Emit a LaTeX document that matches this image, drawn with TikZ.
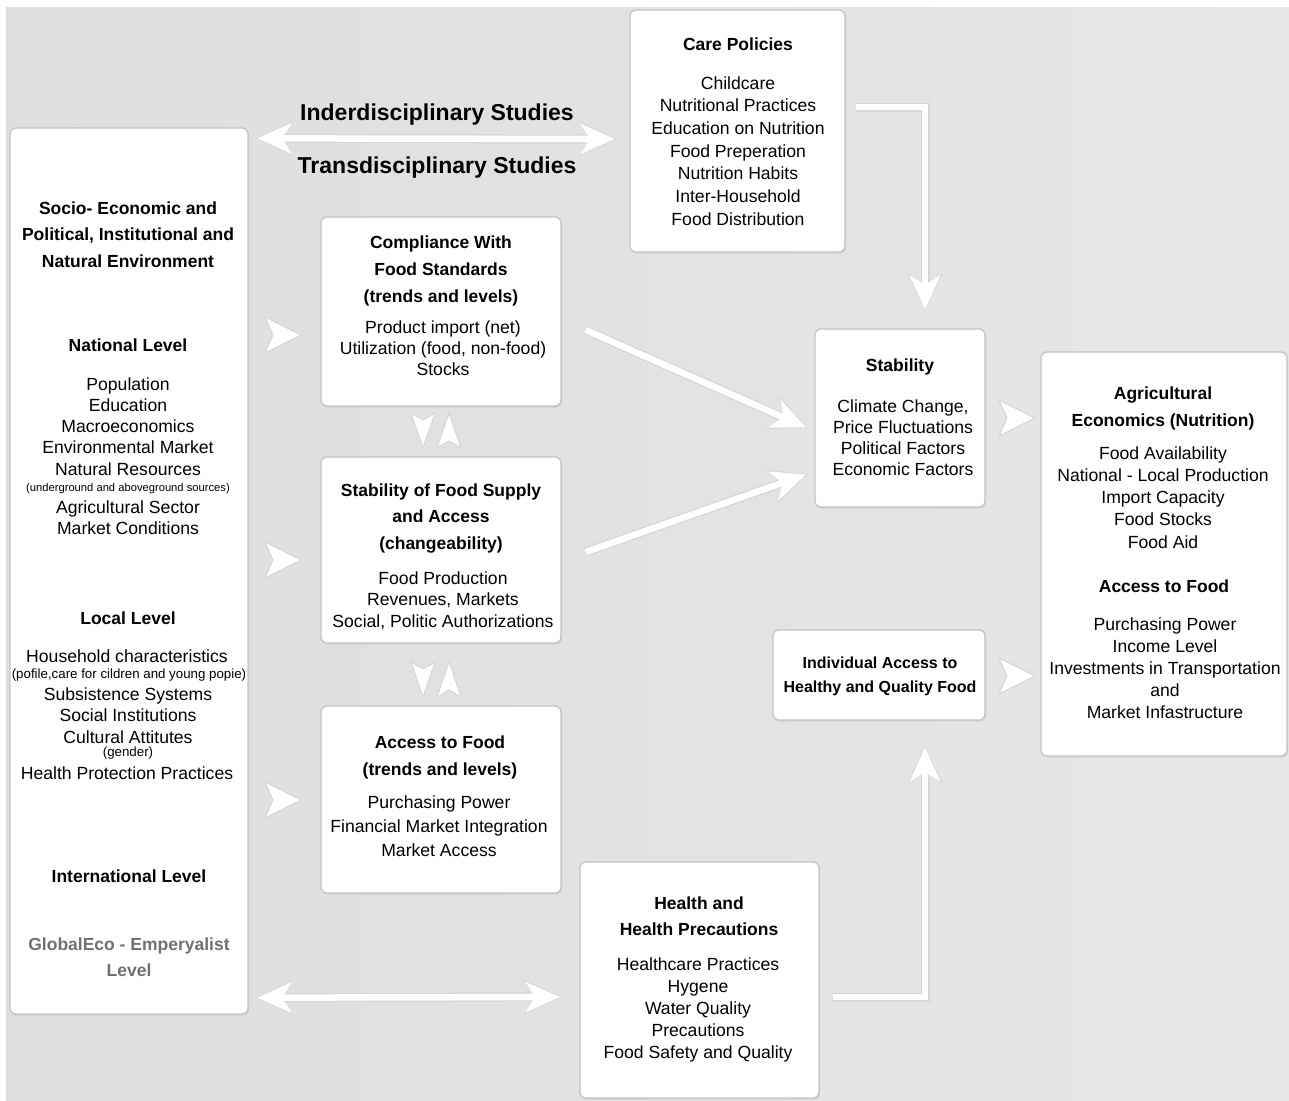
\documentclass[tikz,border=0pt]{standalone}
\usepackage{fontspec}
\setmainfont{Liberation Sans}
\usetikzlibrary{arrows.meta,shadows}
\definecolor{bgA}{HTML}{DDDEDF}
\definecolor{bgB}{HTML}{E6E7E8}
\definecolor{edge}{HTML}{C4C4C4}
\definecolor{graytxt}{HTML}{707070}
\tikzset{
  box/.style={draw=edge, line width=1.3pt, fill=white, rounded corners=6pt, inner sep=0pt,
    drop shadow={opacity=0.18, shadow xshift=1pt, shadow yshift=-1.5pt}},
  hb/.style={font=\fontsize{17.5}{21}\selectfont\bfseries, inner sep=0pt},
  hbs/.style={font=\fontsize{16}{20}\selectfont\bfseries, inner sep=0pt},
  bd/.style={font=\fontsize{17.6}{21}\selectfont, inner sep=0pt},
  smA/.style={font=\fontsize{11.2}{13}\selectfont, inner sep=0pt},
  smB/.style={font=\fontsize{13.3}{15}\selectfont, inner sep=0pt},
  ttl/.style={font=\fontsize{23}{27}\selectfont\bfseries, inner sep=0pt},
  arrshadow/.style={draw=black!16, line width=9pt, -{Stealth[length=37pt, width=34pt, inset=10pt]}},
  arrmain/.style={draw=white, line width=6.5pt, -{Stealth[length=34pt, width=30pt, inset=9pt]}, shorten >=1.5pt},
  darrshadow/.style={draw=black!16, line width=9pt, {Stealth[length=37pt, width=34pt, inset=10pt]}-{Stealth[length=37pt, width=34pt, inset=10pt]}},
  darrmain/.style={draw=white, line width=6.5pt, {Stealth[length=34pt, width=30pt, inset=9pt]}-{Stealth[length=34pt, width=30pt, inset=9pt]}, shorten >=1.5pt, shorten <=1.5pt},
  chevstyle/.style={fill=white, draw=black!16, line width=1pt, line join=round},
  chevH/.pic={\path[chevstyle] (0,0) -- (-36,-18) -- (-28,0) -- (-36,18) -- cycle;},
  chevV/.pic={\path[chevstyle] (0,0) -- (-35,-12) -- (-28,0) -- (-35,12) -- cycle;},
}
\newcommand\txtlines[6]{%
  \foreach \t [count=\i] in {#6} {\node[#5, anchor=base] (#1-\i) at (#2, {#3+(\i-1)*#4}) {\t};}}
\begin{document}
\begin{tikzpicture}[x=1pt,y=-1pt]
\useasboundingbox (0,0) rectangle (1289,1100);
\fill[white] (0,0) rectangle (1289,1100);
\shade[left color=bgA, right color=bgB] (6,7) rectangle (1289,1100);

% boxes
\node[box, minimum width=238pt, minimum height=886pt] (L) at (129,571) {};
\node[box, minimum width=215pt, minimum height=242pt] (CP) at (737.5,131) {};
\node[box, minimum width=240pt, minimum height=189pt] (CS) at (441,311.5) {};
\node[box, minimum width=240pt, minimum height=186pt] (SF) at (441,550) {};
\node[box, minimum width=240pt, minimum height=187pt] (AF) at (441,799.5) {};
\node[box, minimum width=170pt, minimum height=178pt] (ST) at (900,418) {};
\node[box, minimum width=246pt, minimum height=404pt] (AG) at (1164,554) {};
\node[box, minimum width=212pt, minimum height=90pt] (IA) at (879,675) {};
\node[box, minimum width=239pt, minimum height=236pt] (HE) at (699.5,980) {};

% titles
\node[ttl, anchor=base] (T1) at (437,120) {Inderdisciplinary Studies};
\node[ttl, anchor=base] (T2) at (437,173) {Transdisciplinary Studies};

% left box text
\txtlines{Lh}{128}{214}{26.5}{hb}{Socio- Economic and, {Political, Institutional and}, Natural Environment}
\node[hb, anchor=base] (Ln) at (128,351) {National Level};
\txtlines{Lp}{128}{390}{21.25}{bd}{Population, Education, Macroeconomics, Environmental Market, Natural Resources}
\node[smA, anchor=base] (Ls) at (128,491) {(underground and aboveground sources)};
\txtlines{Lq}{128}{513}{21}{bd}{Agricultural Sector, Market Conditions}
\node[hb, anchor=base] (Ll) at (128,624) {Local Level};
\node[bd, anchor=base] (Lhh) at (127,662) {Household characteristics};
\node[smB, anchor=base] (Ls2) at (129,678) {(pofile,care for cildren and young popie)};
\txtlines{Lr}{128}{700}{21.5}{bd}{Subsistence Systems, Social Institutions, Cultural Attitutes}
\node[smB, anchor=base] (Lg) at (128,756) {(gender)};
\node[bd, anchor=base] (Lhp) at (127,779) {Health Protection Practices};
\node[hb, anchor=base] (Li) at (129,882) {International Level};
\txtlines{Le}{129}{950}{26.5}{hb, text=graytxt}{GlobalEco - Emperyalist, Level}

% care policies
\node[hb, anchor=base] (CPh) at (738,50) {Care Policies};
\txtlines{CPb}{738}{89}{22.67}{bd}{Childcare, Nutritional Practices, Education on Nutrition, Food Preperation, Nutrition Habits, Inter-Household, Food Distribution}

% compliance
\txtlines{CSh}{441}{248}{27}{hb}{Compliance With, Food Standards, (trends and levels)}
\txtlines{CSb}{443}{333}{21}{bd}{Product import (net), {Utilization (food, non-food)}, Stocks}

% stability of food supply
\txtlines{SFh}{441}{496}{26.5}{hb}{Stability of Food Supply, and Access, (changeability)}
\txtlines{SFb}{443}{584}{21.5}{bd}{Food Production, {Revenues, Markets}, {Social, Politic Authorizations}}

% access to food
\txtlines{AFh}{440}{748}{27}{hb}{Access to Food, (trends and levels)}
\txtlines{AFb}{439}{808}{24}{bd}{Purchasing Power, Financial Market Integration, Market Access}

% stability
\node[hb, anchor=base] (STh) at (900,371) {Stability};
\txtlines{STb}{903}{412}{21.3}{bd}{{Climate Change,}, Price Fluctuations, Political Factors, Economic Factors}

% agricultural economics
\txtlines{AGh}{1163}{399}{27}{hb}{Agricultural, Economics (Nutrition)}
\txtlines{AGb}{1163}{459}{22.25}{bd}{Food Availability, National - Local Production, Import Capacity, Food Stocks, Food Aid}
\node[hb, anchor=base] (AGh2) at (1164,592) {Access to Food};
\txtlines{AGc}{1165}{630}{22}{bd}{Purchasing Power, Income Level, Investments in Transportation, and, Market Infastructure}

% individual access
\txtlines{IAh}{880}{668}{24}{hbs}{Individual Access to, Healthy and Quality Food}

% health
\txtlines{HEh}{699}{909}{26}{hb}{Health and, Health Precautions}
\txtlines{HEb}{698}{970}{22}{bd}{Healthcare Practices, Hygene, Water Quality, Precautions, Food Safety and Quality}

% connectors
\foreach \s in {darrshadow,darrmain}{
  \draw[\s] ([xshift=7pt,yshift=-11pt]L.north east) -- ([xshift=-13pt,yshift=-8pt]CP.west);
  \draw[\s] ([xshift=7pt,yshift=17pt]L.south east) -- ([xshift=-18pt,yshift=-17pt]HE.west);
}
\foreach \s in {arrshadow,arrmain}{
  \draw[\s] ([xshift=24pt,yshift=-18.5pt]CS.east) -- ([xshift=-7pt,yshift=-10pt]ST.west);
  \draw[\s] ([xshift=24pt,yshift=-2pt]SF.east) -- ([xshift=-7pt,yshift=-56pt]ST.west);
  \draw[\s] ([xshift=10pt,yshift=24pt]CP.east) -| ([xshift=25pt,yshift=17pt]ST.north);
  \draw[\s] ([xshift=13pt,yshift=-17pt]HE.east) -| ([xshift=46pt,yshift=-25pt]IA.south);
}

% chevrons
\pic at (301,335) {chevH};
\pic at (301,560) {chevH};
\pic at (301,800) {chevH};
\pic at (1035,418) {chevH};
\pic at (1035,676) {chevH};
\pic[rotate=-90] at (423,448) {chevV};
\pic[rotate=90] at (449,413) {chevV};
\pic[rotate=-90] at (423,697) {chevV};
\pic[rotate=90] at (449,662) {chevV};
\end{tikzpicture}
\end{document}
